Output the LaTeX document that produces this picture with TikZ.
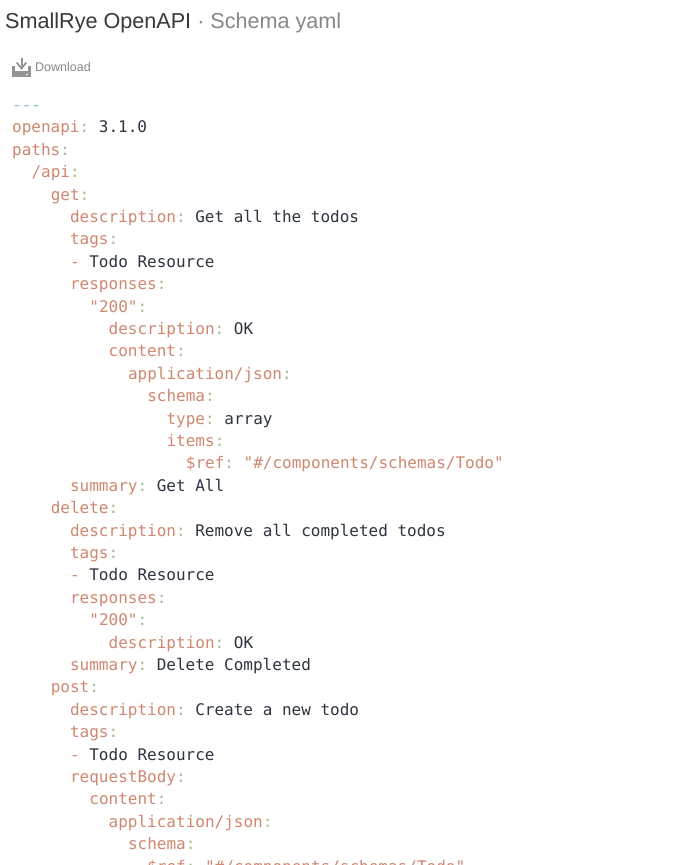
\documentclass[tikz,border=0pt]{standalone}
\usepackage{fontspec}
\setmainfont{Liberation Sans}
\setmonofont{DejaVu Sans Mono}
\definecolor{keyc}{HTML}{D08770}
\definecolor{colc}{HTML}{A3BE8C}
\definecolor{valc}{HTML}{2E3440}
\definecolor{docc}{HTML}{88C0D0}
\definecolor{grayt}{HTML}{888888}
\newcommand\ky[1]{\textcolor{keyc}{#1}\textcolor{colc}{:}}
\newcommand\vl[1]{\textcolor{valc}{#1}}
\newcommand\dsh{\textcolor{keyc}{-}}
\begin{document}
\begin{tikzpicture}[x=1pt,y=1pt,
  code/.style={anchor=base west,inner sep=0pt,font=\ttfamily\fontsize{16}{16}\selectfont}]
\useasboundingbox[clip] (0,0) rectangle (674,-865);
\fill[white] (0,0) rectangle (674,-865);
\node[anchor=base west,inner sep=0pt,font=\fontsize{21.6}{22}\selectfont,text=black!78] (title) at (5,-28) {SmallRye OpenAPI \textcolor{grayt}{· Schema yaml}};
% download icon
\fill[grayt!90] (12,-71) rectangle (31,-77);
\fill[grayt!90] (12,-71) rectangle (15,-66);
\fill[grayt!90] (28,-71) rectangle (31,-66);
\fill[grayt!90] (20.5,-58) rectangle (22.5,-67);
\fill[grayt!90] (16,-63) -- (21.5,-70) -- (27,-63) -- (25.5,-62) -- (21.5,-67) -- (17.5,-62) -- cycle;
\fill[white] (27,-74.5) circle (0.9);
\node[anchor=base west,inner sep=0pt,font=\fontsize{12.5}{13}\selectfont,text=grayt] (dl) at (35,-71.5) {Download};
\foreach \i/\ind/\txt in {
 0/0/{\textcolor{docc}{-{}-{}-}},
 1/0/{\ky{openapi} \vl{3.1.0}},
 2/0/{\ky{paths}},
 3/2/{\ky{/api}},
 4/4/{\ky{get}},
 5/6/{\ky{description} \vl{Get all the todos}},
 6/6/{\ky{tags}},
 7/6/{\dsh{} \vl{Todo Resource}},
 8/6/{\ky{responses}},
 9/8/{\ky{"200"}},
 10/10/{\ky{description} \vl{OK}},
 11/10/{\ky{content}},
 12/12/{\ky{application/json}},
 13/14/{\ky{schema}},
 14/16/{\ky{type} \vl{array}},
 15/16/{\ky{items}},
 16/18/{\ky{\$ref} \textcolor{keyc}{"\#/components/schemas/Todo"}},
 17/6/{\ky{summary} \vl{Get All}},
 18/4/{\ky{delete}},
 19/6/{\ky{description} \vl{Remove all completed todos}},
 20/6/{\ky{tags}},
 21/6/{\dsh{} \vl{Todo Resource}},
 22/6/{\ky{responses}},
 23/8/{\ky{"200"}},
 24/10/{\ky{description} \vl{OK}},
 25/6/{\ky{summary} \vl{Delete Completed}},
 26/4/{\ky{post}},
 27/6/{\ky{description} \vl{Create a new todo}},
 28/6/{\ky{tags}},
 29/6/{\dsh{} \vl{Todo Resource}},
 30/6/{\ky{requestBody}},
 31/8/{\ky{content}},
 32/10/{\ky{application/json}},
 33/12/{\ky{schema}},
 34/14/{\ky{\$ref} \textcolor{keyc}{"\#/components/schemas/Todo"}}}
 \node[code] (l\i) at ({12+\ind*9.65},{-(110.5+22.4*\i)}) {\txt};
\end{tikzpicture}
\end{document}
